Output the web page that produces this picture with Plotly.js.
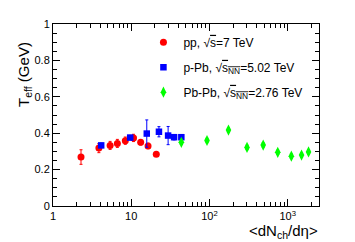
<!DOCTYPE html>
<html><head><meta charset="utf-8">
<script src="https://cdn.plot.ly/plotly-3.0.1.min.js"></script>
<style>html,body{margin:0;padding:0;background:#fff}#chart{width:355px;height:242px}</style>
</head><body><div id="chart"></div>
<script>
// pp, sqrt(s)=7 TeV
const ppX = [2.28, 3.86, 5.37, 6.65, 8.4, 10.7, 13.2, 16.4, 20.9];
const ppY = [0.269, 0.318, 0.333, 0.344, 0.359, 0.374, 0.350, 0.330, 0.285];
const ppErr = [0.04, 0.025, 0.022, 0.022, 0.02, 0.02, 0.015, 0.015, 0.01];
// p-Pb, sqrt(sNN)=5.02 TeV
const ppbX = [4.13, 9.7, 15.8, 22.6, 29.6, 35.3, 43.7];
const ppbY = [0.333, 0.376, 0.398, 0.408, 0.387, 0.378, 0.378];
const ppbErr = [0.012, 0.012, 0.075, 0.028, 0.05, 0.015, 0.012];
// Pb-Pb, sqrt(sNN)=2.76 TeV
const pbX = [43.7, 93, 175, 302, 486, 746, 1113, 1503, 1846];
const pbY = [0.350, 0.360, 0.417, 0.322, 0.335, 0.295, 0.274, 0.280, 0.297];
const pbErr = [0.012, 0.012, 0.012, 0.012, 0.012, 0.012, 0.012, 0.012, 0.012];

const xMajor = [1, 10, 100, 1000];
const xMajorText = ['1', '10', '10<sup>2</sup>', '10<sup>3</sup>'];
const xMinor = [2,3,4,5,6,7,8,9,20,30,40,50,60,70,80,90,200,300,400,500,600,700,800,900,2000];

const traces = [
  {x: ppX, y: ppY, type: 'scatter', mode: 'markers', legendgroup: 'a', name: 'pp, √<span style="text-decoration:overline">s</span>=7 TeV',
   marker: {color: '#ff0000', symbol: 'circle', size: 7},
   error_y: {type: 'data', array: ppErr, color: '#ff0000', thickness: 1, width: 1.5}},
  {x: ppbX, y: ppbY, type: 'scatter', mode: 'markers', legendgroup: 'b', name: 'p-Pb, √<span style="text-decoration:overline">s<sub>NN</sub></span>=5.02 TeV',
   marker: {color: '#0000ff', symbol: 'square', size: 6.5},
   error_y: {type: 'data', array: ppbErr, color: '#0000ff', thickness: 1, width: 1.5}},
  {x: pbX, y: pbY, type: 'scatter', mode: 'markers', legendgroup: 'c', name: 'Pb-Pb, √<span style="text-decoration:overline">s<sub>NN</sub></span>=2.76 TeV',
   marker: {color: '#00ff00', symbol: 'diamond-tall', size: 8},
   error_y: {type: 'data', array: pbErr, color: '#00ff00', thickness: 1, width: 1.5}}
];

const axFont = {family: 'Liberation Sans, Arial, sans-serif', size: 11, color: '#000'};
const layout = {
  width: 355, height: 242,
  margin: {l: 53, r: 36, t: 24, b: 36},
  paper_bgcolor: '#fff', plot_bgcolor: '#fff',
  showlegend: true,
  legend: {x: 0.34, y: 0.98, xanchor: 'left', yanchor: 'top', bgcolor: 'rgba(0,0,0,0)',
           font: {family: 'Liberation Sans, Arial, sans-serif', size: 12, color: '#000'},
           itemwidth: 30, tracegroupgap: 6, traceorder: 'grouped'},
  xaxis: {type: 'log', range: [0, 3.4], showgrid: false, zeroline: false,
          showline: true, linecolor: '#000', linewidth: 1, mirror: 'allticks',
          ticks: 'inside', ticklen: 7, tickcolor: '#000', tickwidth: 1,
          tickmode: 'array', tickvals: xMajor, ticktext: xMajorText, tickfont: axFont,
          minor: {tickmode: 'array', tickvals: xMinor, ticks: 'inside', ticklen: 4, tickcolor: '#000', showgrid: false}},
  yaxis: {range: [0, 1], showgrid: false, zeroline: false,
          showline: true, linecolor: '#000', linewidth: 1, mirror: 'allticks',
          ticks: 'inside', ticklen: 7, tickcolor: '#000', tickwidth: 1,
          tickmode: 'array', tickvals: [0, 0.2, 0.4, 0.6, 0.8, 1], ticktext: ['0', '0.2', '0.4', '0.6', '0.8', '1'],
          tickfont: axFont,
          minor: {dtick: 0.05, ticks: 'inside', ticklen: 4, tickcolor: '#000', showgrid: false}},
  annotations: [
    {text: 'T<sub>eff</sub> (GeV)', xref: 'paper', yref: 'paper', x: -0.105, y: 0.91,
     xanchor: 'center', yanchor: 'top', textangle: -90, showarrow: false,
     font: {family: 'Liberation Sans, Arial, sans-serif', size: 15, color: '#000'}},
    {text: '&lt;dN<sub>ch</sub>/dη&gt;', xref: 'paper', yref: 'paper', x: 1.005, y: -0.075,
     xanchor: 'right', yanchor: 'top', showarrow: false,
     font: {family: 'Liberation Sans, Arial, sans-serif', size: 15, color: '#000'}}
  ]
};
Plotly.newPlot('chart', traces, layout, {displayModeBar: false, staticPlot: true});
</script></body></html>
